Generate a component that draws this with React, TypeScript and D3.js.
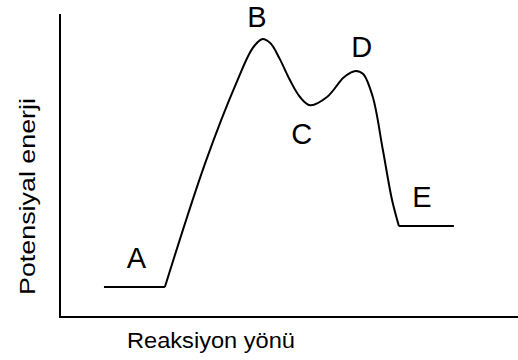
import React from "react"
import * as d3 from "d3"

// reaction path between A and E (reaction coordinate, energy), 0..100 units
const pathX = [22.9, 31.7, 38.6, 42.1, 44.1, 45.9, 48.0, 50.2, 52.4, 54.6, 58.3, 61.8, 63.3, 64.6, 66.2, 68.3, 70.5, 72.5, 74.0]
const pathY = [9.9, 50.8, 77.6, 88.8, 91.7, 90.4, 85.1, 78.2, 72.6, 69.9, 72.6, 78.9, 80.5, 81.2, 80.2, 72.6, 55.1, 38.6, 30.0]

// flat levels for reactants and products
const levelStart = [9.6, 74.0]
const levelEnd = [22.9, 86.0]
const levelY = [9.9, 30.0]

// point labels
const labels = ["A", "B", "C", "D", "E"]
const labelX = [16.7, 43.0, 52.8, 65.9, 79.0]
const labelY = [16.2, 95.7, 57.1, 85.8, 36.3]

const xTitle = "Reaksiyon yönü"
const yTitle = "Potensiyal enerji"

const width = 518
const height = 360
const margin = { top: 14, right: 0, bottom: 43, left: 60 }

export default function App() {
	const x = d3.scaleLinear().domain([0, 100]).range([margin.left, width - margin.right])
	const y = d3.scaleLinear().domain([0, 100]).range([height - margin.bottom, margin.top])

	const points: [number, number][] = pathX.map((v, i) => [v, pathY[i]])
	const line = d3
		.line<[number, number]>()
		.x(d => x(d[0]))
		.y(d => y(d[1]))
		.curve(d3.curveCatmullRom.alpha(0.5))

	const font = "'Liberation Sans', Arial, sans-serif"

	return (
		<svg
			width={width}
			height={height}
			style={{ position: "absolute", left: 0, top: 0, background: "#fff" }}
		>
			{/* axes */}
			<line x1={x(0)} y1={y(100)} x2={x(0)} y2={y(0)} stroke="#000" strokeWidth={2} />
			<line x1={x(0) - 1} y1={y(0)} x2={x(100)} y2={y(0)} stroke="#000" strokeWidth={2.2} />

			{/* energy curve */}
			<path d={line(points) || ""} fill="none" stroke="#000" strokeWidth={2} strokeLinejoin="round" />
			{levelY.map((v, i) => (
				<line
					key={i}
					x1={x(levelStart[i])}
					x2={x(levelEnd[i])}
					y1={y(v)}
					y2={y(v)}
					stroke="#000"
					strokeWidth={2}
				/>
			))}

			{/* letters */}
			{labels.map((t, i) => (
				<text
					key={t}
					x={x(labelX[i])}
					y={y(labelY[i])}
					textAnchor="middle"
					fontFamily={font}
					fontSize={29}
					fill="#000"
				>
					{t}
				</text>
			))}

			{/* axis titles */}
			<text
				x={211}
				y={348}
				textAnchor="middle"
				fontFamily={font}
				fontSize={21.5}
				textLength={168}
				lengthAdjust="spacingAndGlyphs"
			>
				{xTitle}
			</text>
			<text
				transform={`translate(35, ${(y(0) + y(100)) / 2 + 31}) rotate(-90)`}
				textAnchor="middle"
				fontFamily={font}
				fontSize={21.5}
				textLength={197}
				lengthAdjust="spacingAndGlyphs"
			>
				{yTitle}
			</text>
		</svg>
	)
}
